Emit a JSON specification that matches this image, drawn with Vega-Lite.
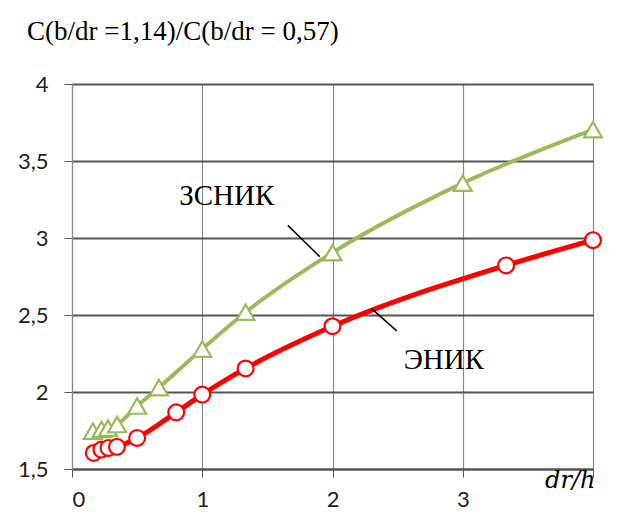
{
  "$schema": "https://vega.github.io/schema/vega-lite/v6.json",
  "autosize": "none",
  "width": 521,
  "height": 385,
  "padding": {"left": 72, "top": 84, "right": 24, "bottom": 49},
  "background": "white",
  "title": {
    "text": "C(b/dr =1,14)/C(b/dr = 0,57)",
    "anchor": "start",
    "frame": "group",
    "font": "Liberation Serif",
    "fontStyle": "normal",
    "fontWeight": "normal",
    "fontSize": 27,
    "color": "#000000",
    "baseline": "alphabetic",
    "offset": 6,
    "dx": -45
  },
  "datasets": {
    "curves": [
      {"series": "ЭНИК", "x": 0.167, "y": 1.604},
      {"series": "ЭНИК", "x": 0.226, "y": 1.626},
      {"series": "ЭНИК", "x": 0.28, "y": 1.637},
      {"series": "ЭНИК", "x": 0.345, "y": 1.644},
      {"series": "ЭНИК", "x": 0.5, "y": 1.702},
      {"series": "ЭНИК", "x": 0.8, "y": 1.868},
      {"series": "ЭНИК", "x": 1.0, "y": 1.983},
      {"series": "ЭНИК", "x": 1.333, "y": 2.153},
      {"series": "ЭНИК", "x": 2.0, "y": 2.427},
      {"series": "ЭНИК", "x": 3.333, "y": 2.822},
      {"series": "ЭНИК", "x": 4.0, "y": 2.986},
      {"series": "ЗСНИК", "x": 0.16, "y": 1.745},
      {"series": "ЗСНИК", "x": 0.226, "y": 1.757},
      {"series": "ЗСНИК", "x": 0.276, "y": 1.765},
      {"series": "ЗСНИК", "x": 0.346, "y": 1.789},
      {"series": "ЗСНИК", "x": 0.5, "y": 1.909},
      {"series": "ЗСНИК", "x": 0.667, "y": 2.029},
      {"series": "ЗСНИК", "x": 1.0, "y": 2.279},
      {"series": "ЗСНИК", "x": 1.333, "y": 2.518},
      {"series": "ЗСНИК", "x": 2.0, "y": 2.905},
      {"series": "ЗСНИК", "x": 3.0, "y": 3.356},
      {"series": "ЗСНИК", "x": 4.0, "y": 3.704}
    ],
    "labels": [
      {"label": "ЗСНИК", "x": 1.188, "y": 3.212},
      {"label": "ЭНИК", "x": 2.855, "y": 2.148}
    ],
    "leaders": [
      {"x": 1.657, "y": 3.082, "x2": 1.902, "y2": 2.879},
      {"x": 2.302, "y": 2.54, "x2": 2.493, "y2": 2.397}
    ]
  },
  "config": {
    "view": {"stroke": null},
    "axis": {
      "labelFont": "Lato",
      "labelFontSize": 22,
      "labelColor": "#222222",
      "tickColor": "#666666",
      "tickSize": 8,
      "labelPadding": 15
    }
  },
  "encoding": {
    "x": {
      "field": "x",
      "type": "quantitative",
      "scale": {"domain": [0, 4], "nice": false, "zero": false},
      "axis": {
        "values": [0, 1, 2, 3, 4],
        "labelExpr": "datum.value == 4 ? '' : datum.label",
        "grid": true,
        "gridColor": "#8a8a8a",
        "gridWidth": 1.2,
        "domainColor": "#555555",
        "domainWidth": 1.8,
        "tickColor": "#555555",
        "labelPadding": 12,
        "title": "dr/h",
        "titleFont": "DejaVu Serif",
        "titleFontStyle": "italic",
        "titleFontWeight": "normal",
        "titleFontSize": 24,
        "titleColor": "#000000",
        "titleAlign": "right",
        "titleAnchor": null,
        "titleBaseline": "alphabetic",
        "titleX": 523,
        "titleY": 18
      }
    },
    "y": {
      "field": "y",
      "type": "quantitative",
      "scale": {"domain": [1.5, 4], "nice": false, "zero": false},
      "axis": {
        "values": [1.5, 2, 2.5, 3, 3.5, 4],
        "labelExpr": "replace(toString(datum.value), '.', ',')",
        "grid": true,
        "gridColor": "#555555",
        "gridWidth": 1.8,
        "domainColor": "#8a8a8a",
        "domainWidth": 1.2,
        "tickColor": "#555555",
        "labelPadding": 16,
        "title": null
      }
    }
  },
  "layer": [
    {
      "data": {"name": "curves"},
      "mark": {"type": "line", "interpolate": "monotone"},
      "encoding": {
        "color": {
          "field": "series",
          "type": "nominal",
          "scale": {"domain": ["ЗСНИК", "ЭНИК"], "range": ["#9bbb59", "#ff0000"]},
          "legend": null
        },
        "strokeWidth": {
          "field": "series",
          "type": "nominal",
          "scale": {"domain": ["ЗСНИК", "ЭНИК"], "range": [4, 5]},
          "legend": null
        }
      }
    },
    {
      "data": {"name": "curves"},
      "mark": {"type": "point", "filled": false, "fill": "white", "fillOpacity": 1, "strokeWidth": 2.2, "opacity": 1},
      "encoding": {
        "stroke": {
          "field": "series",
          "type": "nominal",
          "scale": {"domain": ["ЗСНИК", "ЭНИК"], "range": ["#9bbb59", "#ff0000"]},
          "legend": null
        },
        "shape": {
          "field": "series",
          "type": "nominal",
          "scale": {"domain": ["ЗСНИК", "ЭНИК"], "range": ["triangle-up", "circle"]},
          "legend": null
        },
        "size": {
          "field": "series",
          "type": "nominal",
          "scale": {"domain": ["ЗСНИК", "ЭНИК"], "range": [320, 250]},
          "legend": null
        }
      }
    },
    {
      "data": {"name": "leaders"},
      "mark": {"type": "rule", "color": "#000000", "strokeWidth": 1.5},
      "encoding": {
        "x2": {"field": "x2"},
        "y2": {"field": "y2"}
      }
    },
    {
      "data": {"name": "labels"},
      "mark": {"type": "text", "font": "Liberation Serif", "fontSize": 29, "align": "center", "baseline": "alphabetic", "color": "#000000"},
      "encoding": {
        "text": {"field": "label", "type": "nominal"}
      }
    }
  ]
}
